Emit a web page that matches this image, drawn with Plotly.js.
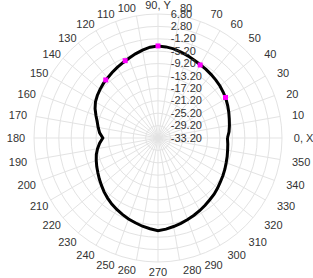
<!DOCTYPE html>
<html>
<head>
<meta charset="utf-8">
<script src="https://cdn.plot.ly/plotly-3.0.1.min.js"></script>
<style>html,body{margin:0;padding:0;background:#fff;}#chart{width:313px;height:278px;}</style>
</head>
<body>
<div id="chart"></div>
<script>
// Pattern (angle in degrees, level in dB)
const angles = [0,5,10,15,20,25,30,35,40,45,50,55,60,65,70,75,80,85,90,95,100,105,110,115,120,125,130,135,140,145,150,155,160,165,170,175,180,185,190,195,200,205,210,215,220,225,230,235,240,245,250,255,260,265,270,275,280,285,290,295,300,305,310,315,320,325,330,335,340,345,350,355,360];
const levels = [-10.8,-10.2,-9.8,-9.4,-8.9,-8.4,-7.9,-7.5,-7.1,-6.8,-6.5,-6.2,-5.9,-5.5,-5.0,-4.5,-4.0,-3.7,-3.5,-3.8,-4.4,-5.1,-5.8,-6.4,-6.9,-7.4,-7.9,-8.3,-8.8,-9.3,-9.9,-10.8,-11.9,-12.9,-13.6,-14.3,-15.4,-14.3,-13.4,-12.6,-12.0,-11.4,-10.8,-10.1,-9.4,-8.6,-7.9,-7.2,-6.6,-6.0,-5.4,-4.9,-4.3,-3.8,-3.3,-3.7,-4.2,-4.7,-5.2,-5.7,-6.2,-6.7,-7.2,-7.6,-8.1,-8.6,-9.0,-9.4,-9.8,-10.1,-10.4,-10.6,-10.8];
// Marked points
const markerAngles = [31, 60, 90, 113, 132];
const markerLevels = [-7.8, -6.0, -3.5, -6.1, -8.0];
// Axis ticks
const angleTicks = [0,10,20,30,40,50,60,70,80,90,100,110,120,130,140,150,160,170,180,190,200,210,220,230,240,250,260,270,280,290,300,310,320,330,340,350];
const angleLabels = angleTicks.map(a => a === 0 ? '0, X' : (a === 90 ? '90, Y' : String(a)));
const radialTicks = [6.8,2.8,-1.2,-5.2,-9.2,-13.2,-17.2,-21.2,-25.2,-29.2,-33.2];
const radialLabels = radialTicks.map(v => v.toFixed(2));

// label spacing (presentation only)
const NB = '\u00a0';
function angPad(a) {
  if (a <= 70 || a >= 310) return 3;
  if (a === 300) return 2;
  if (a > 270 && a < 300) return 1;
  return 0;
}
function angPadLeft(a) {
  const d = Math.abs(a - 180);
  if (d <= 10) return 2;
  if (d <= 20) return 1;
  return 0;
}
const angleTickText = angleTicks.map((a, i) => NB.repeat(angPad(a)) + angleLabels[i] + NB.repeat((a > 90 && a < 270) ? angPadLeft(a) : 0));
const radialTickText = radialLabels.map(s => NB.repeat(4) + s + NB.repeat(s.length === 4 ? 3 : (s.length === 5 ? 2 : 0)));

const traces = [
  {type:'scatterpolar', mode:'lines', theta: angles, r: levels,
   line:{color:'#000', width:3}, hoverinfo:'skip', showlegend:false},
  {type:'scatterpolar', mode:'markers', theta: markerAngles, r: markerLevels,
   marker:{color:'#ff00ff', size:5, symbol:'square', line:{color:'#ff00ff', width:0}}, showlegend:false}
];
const layout = {
  width:313, height:278,
  margin:{l:34, r:31, t:14, b:16},
  paper_bgcolor:'#fff',
  font:{family:'Liberation Sans, Arial, sans-serif', size:11, color:'#333'},
  polar:{
    bgcolor:'#fff',
    angularaxis:{rotation:0, direction:'counterclockwise', tickmode:'array',
      tickvals: angleTicks, ticktext: angleTickText, ticks:'',
      gridcolor:'#e3e3e3', linecolor:'#e3e3e3', showline:true,
      tickfont:{size:11, color:'#333'}},
    radialaxis:{angle:90, range:[-33.2, 6.8], tickmode:'array',
      tickvals: radialTicks, ticktext: radialTickText, ticks:'',
      gridcolor:'#e3e3e3', showline:false, tickangle:90,
      tickfont:{size:11, color:'#333'}}
  }
};
Plotly.newPlot('chart', traces, layout, {displayModeBar:false, staticPlot:true});
</script>
</body>
</html>
